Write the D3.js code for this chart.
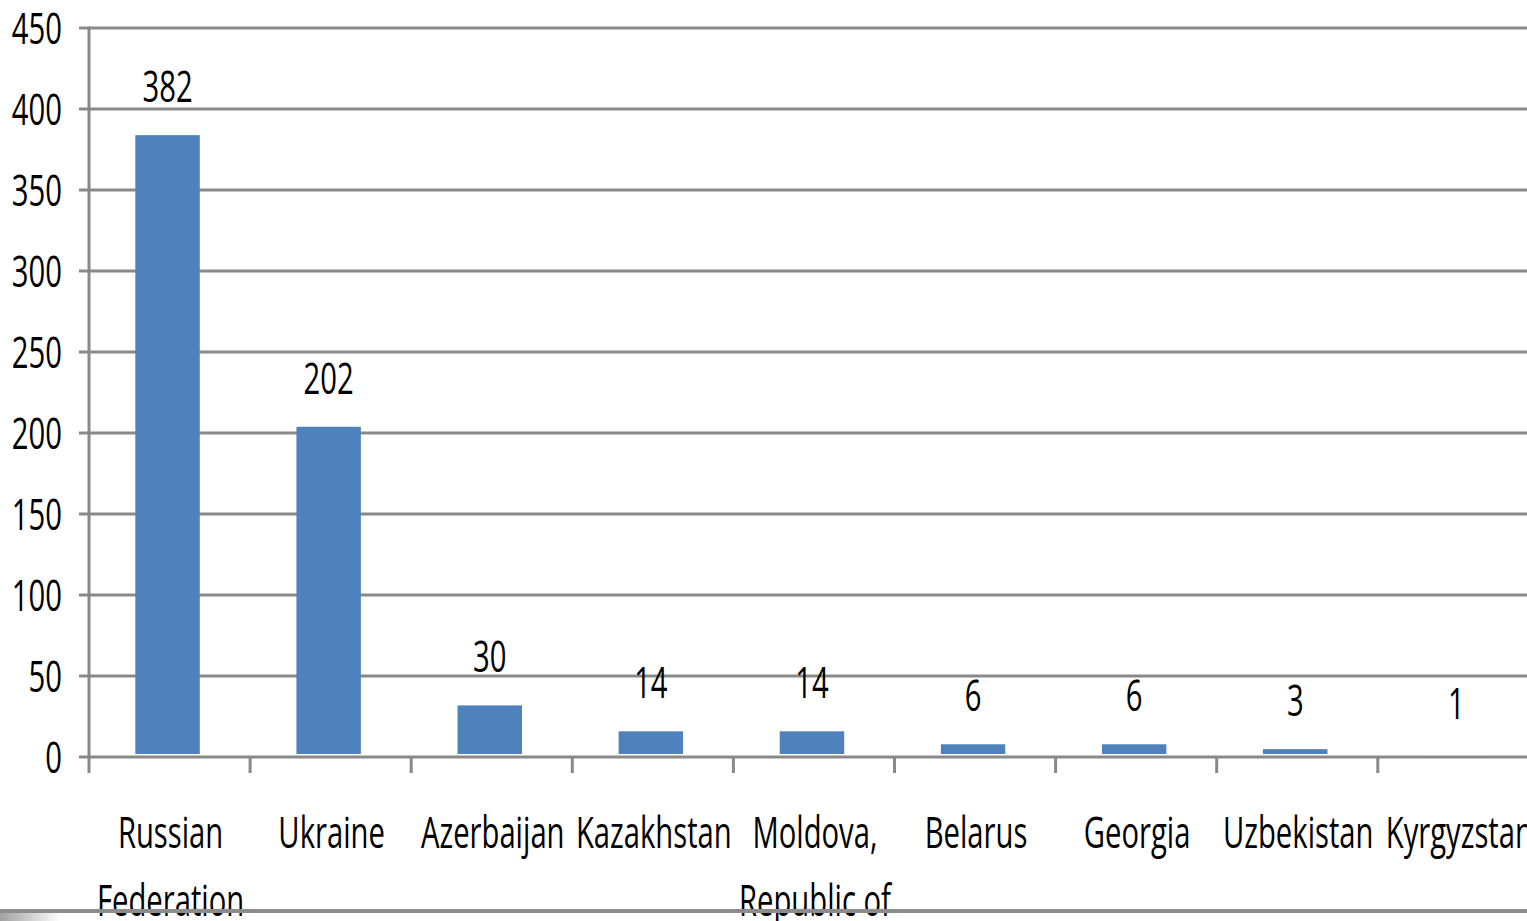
<!DOCTYPE html>
<html>
<head>
<meta charset="utf-8">
<script src="https://cdn.jsdelivr.net/npm/d3@7"></script>
<style>
  body { margin: 0; background: #fff; }
  svg { display: block; }
  text { font-family: "Open Sans", sans-serif; fill: #000; }
</style>
</head>
<body>
<svg id="chart" width="1527" height="921"></svg>
<script>
// data
var countries = ["Russian Federation", "Ukraine", "Azerbaijan", "Kazakhstan", "Moldova, Republic of",
                 "Belarus", "Georgia", "Uzbekistan", "Kyrgyzstan"];
var countryLines = [["Russian", "Federation"], ["Ukraine"], ["Azerbaijan"], ["Kazakhstan"],
                    ["Moldova,", "Republic of"], ["Belarus"], ["Georgia"], ["Uzbekistan"], ["Kyrgyzstan"]];
var counts = [382, 202, 30, 14, 14, 6, 6, 3, 1];
var yTicks = [0, 50, 100, 150, 200, 250, 300, 350, 400, 450];

var svg = d3.select("svg#chart");
var gridColor = "#898989";
var squeeze = 0.68; // text in the picture is horizontally narrow

// plot box (note: "top" is reserved on window, so use other names)
var plotLeft = 89, plotTop = 28, plotBottom = 757;
var band = 161.1;

var x = d3.scaleBand()
    .domain(countries)
    .range([plotLeft, plotLeft + band * countries.length])
    .paddingInner(0.6)
    .paddingOuter(0.3);

var y = d3.scaleLinear()
    .domain([0, 450])
    .range([plotBottom, plotTop]);

// bars sit slightly left of the band centre in the picture
var barX = function(i) { return x(countries[i]) - 2; };

// gridlines + y ticks
svg.append("g").selectAll("line")
    .data(yTicks)
    .enter().append("line")
    .attr("x1", plotLeft - 10)
    .attr("x2", 1527)
    .attr("y1", function(d) { return y(d); })
    .attr("y2", function(d) { return y(d); })
    .attr("stroke", gridColor)
    .attr("stroke-width", 3);

// vertical axis
svg.append("line")
    .attr("x1", plotLeft).attr("x2", plotLeft)
    .attr("y1", y(450) - 1.5).attr("y2", plotBottom + 16)
    .attr("stroke", gridColor).attr("stroke-width", 3);

// category boundary ticks
var bounds = d3.range(1, countries.length + 1).map(function(i) { return plotLeft + band * i; });
svg.append("g").selectAll("line")
    .data(bounds)
    .enter().append("line")
    .attr("x1", function(d) { return d; })
    .attr("x2", function(d) { return d; })
    .attr("y1", plotBottom)
    .attr("y2", plotBottom + 16)
    .attr("stroke", gridColor)
    .attr("stroke-width", 3);

// y tick labels
svg.append("g").selectAll("g")
    .data(yTicks)
    .enter().append("g")
    .attr("transform", function(d) { return "translate(62," + (y(d) + 16) + ") scale(" + squeeze + ",1)"; })
    .append("text")
    .attr("text-anchor", "end")
    .attr("font-size", 43)
    .text(function(d) { return d; });

// bars (sit a little above the axis line, as in the picture)
svg.append("g").selectAll("rect")
    .data(counts)
    .enter().append("rect")
    .attr("x", function(d, i) { return barX(i); })
    .attr("width", x.bandwidth())
    .attr("y", function(d) { return y(d) - 3; })
    .attr("height", function(d) { return Math.max(0, y(0) - y(d) - (d < 2 ? 1.6 : 0)); })
    .attr("fill", "#4F81BD");

// value labels
svg.append("g").selectAll("g")
    .data(counts)
    .enter().append("g")
    .attr("transform", function(d, i) {
      return "translate(" + (barX(i) + x.bandwidth() / 2) + "," + (y(d) - 36) + ") scale(" + squeeze + ",1)";
    })
    .append("text")
    .attr("text-anchor", "middle")
    .attr("font-size", 43)
    .text(function(d) { return d; });

// category labels
var cat = svg.append("g").selectAll("g")
    .data(countryLines)
    .enter().append("g")
    .attr("transform", function(d, i) {
      return "translate(" + (x(countries[i]) + x.bandwidth() / 2 + 1) + ",848) scale(" + squeeze + ",1)";
    })
    .append("text")
    .attr("text-anchor", "middle")
    .attr("font-size", 43);

cat.selectAll("tspan")
    .data(function(d) { return d; })
    .enter().append("tspan")
    .attr("x", 0)
    .attr("dy", function(d, i) { return i === 0 ? 0 : 68; })
    .text(function(d) { return d; });

// slide footer rule
var defs = svg.append("defs");
var grad = defs.append("linearGradient").attr("id", "fade");
grad.append("stop").attr("offset", "0%").attr("stop-color", "#a0a0a0");
grad.append("stop").attr("offset", "100%").attr("stop-color", "#ffffff");

svg.append("rect")
    .attr("x", 0).attr("y", 913).attr("width", 60).attr("height", 8)
    .attr("fill", "url(#fade)");

svg.append("line")
    .attr("x1", 0).attr("x2", 1527)
    .attr("y1", 911).attr("y2", 911)
    .attr("stroke", "#8c8c8c").attr("stroke-width", 4);
</script>
</body>
</html>
